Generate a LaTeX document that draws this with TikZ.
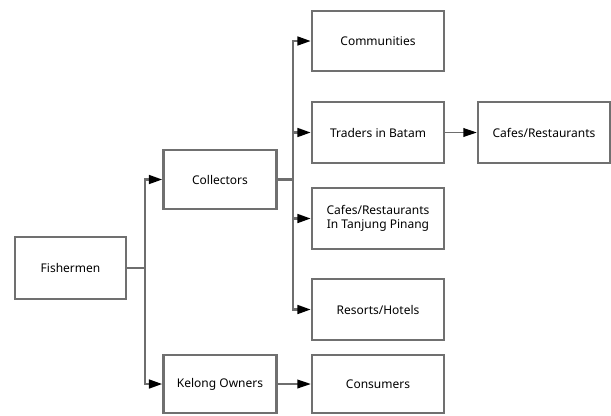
\documentclass[tikz,border=0pt]{standalone}
\usepackage{fontspec}
\setmainfont{Noto Sans}
\usetikzlibrary{arrows.meta}

\definecolor{boxgray}{RGB}{112,112,112}
\definecolor{linkgray}{RGB}{110,110,110}

\tikzset{every picture/.style={line width=0.75pt}}
\tikzset{
  chainbox/.style={draw=boxgray, line width=1.8pt, fill=white, align=center,
    inner sep=0.75pt, font=\fontsize{9}{11}\selectfont},
  flowlink/.style={draw=linkgray, line width=1.8pt,
    -{Triangle[black,length=10pt,width=6.5pt]}},
  thinlink/.style={flowlink, line width=1pt},
  plainlink/.style={draw=linkgray, line width=1.8pt},
}

\begin{document}
\begin{tikzpicture}[x=0.75pt,y=0.75pt,yscale=-1,xscale=1]
\useasboundingbox (0,0) rectangle (611,415);

% Boxes
\node [chainbox, minimum width=83.25pt, minimum height=46.5pt] (fish) at (70.5,268) {Fishermen};
\node [chainbox, minimum width=84.75pt, minimum height=44.25pt] (coll) at (220,179.5) {Collectors};
\node [chainbox, minimum width=84.75pt, minimum height=43.5pt] (kel) at (220,384) {Kelong Owners};
\node [chainbox, minimum width=99pt, minimum height=45pt] (comm) at (378,41) {Communities};
\node [chainbox, minimum width=99pt, minimum height=45.75pt] (trad) at (378,132.5) {Traders in Batam};
\node [chainbox, minimum width=99pt, minimum height=45.75pt] (cafe) at (544,132.5) {Cafes/Restaurants};
\node [chainbox, minimum width=99pt, minimum height=45.75pt] (tanj) at (378,218.5) {Cafes/Restaurants\\In Tanjung Pinang};
\node [chainbox, minimum width=99pt, minimum height=45.75pt] (reso) at (378,309.5) {Resorts/Hotels};
\node [chainbox, minimum width=99pt, minimum height=43.5pt] (cons) at (378,384) {Consumers};

% Fishermen branch
\draw [plainlink, line width=1.2pt] (fish.east) -- (145,268) coordinate (fbus);
\draw [flowlink] (fbus) |- (coll.west);
\draw [flowlink] (fbus) |- (kel.west);

% Collectors branch
\draw [plainlink] (coll.east) -- (293,179.5) coordinate (cbus);
\draw [flowlink] (cbus) |- (comm.west);
\draw [flowlink] (cbus) |- (trad.west);
\draw [flowlink] (cbus) |- (tanj.west);
\draw [flowlink] (cbus) |- (reso.west);

% Onward links
\draw [thinlink] (trad.east) -- (cafe.west);
\draw [thinlink] (kel.east) -- (cons.west);

\end{tikzpicture}
\end{document}
